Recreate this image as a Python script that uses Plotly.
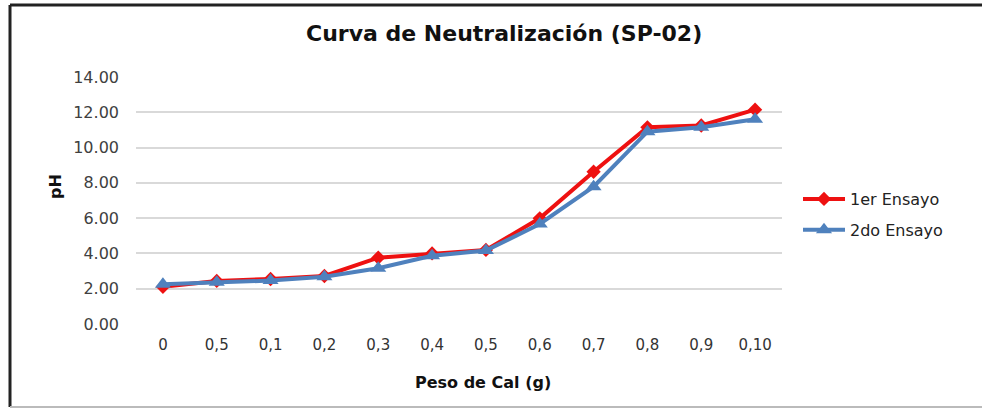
import plotly.graph_objects as go

# Peso de cal añadido (etiquetas del eje) y pH medido en cada ensayo
peso_labels = ["0", "0,5", "0,1", "0,2", "0,3", "0,4", "0,5", "0,6", "0,7", "0,8", "0,9", "0,10"]
ph_ensayo1 = [2.11, 2.44, 2.55, 2.72, 3.76, 4.00, 4.20, 5.99, 8.63, 11.15, 11.25, 12.15]
ph_ensayo2 = [2.25, 2.36, 2.46, 2.68, 3.16, 3.87, 4.16, 5.67, 7.78, 10.90, 11.15, 11.60]
y_ticks = [0, 2, 4, 6, 8, 10, 12, 14]

W, H = 982, 409
L, R, T, B = 136, 782, 77, 324  # plot area in pixels

x_idx = list(range(len(peso_labels)))

fig = go.Figure()
fig.add_trace(go.Scatter(
    x=x_idx, y=ph_ensayo1, name="1er Ensayo", mode="lines+markers", legendgroup="e1",
    line=dict(color="#ee1111", width=4),
    marker=dict(symbol="diamond", size=11, color="#ee1111"),
))
fig.add_trace(go.Scatter(
    x=x_idx, y=ph_ensayo2, name="2do Ensayo", mode="lines+markers", legendgroup="e2",
    line=dict(color="#4f81bd", width=4),
    marker=dict(symbol="triangle-up", size=14, color="#4f81bd"),
))

font = "DejaVu Sans, Verdana, sans-serif"


def px_x(px):
    return (px - L) / (R - L)


def px_y(py):
    return (B - py) / (B - T)


fig.update_layout(
    width=W, height=H,
    margin=dict(l=L, r=W - R, t=T, b=H - B, autoexpand=False),
    paper_bgcolor="white", plot_bgcolor="white",
    font=dict(family=font, color="#404040", size=14),
    showlegend=True,
    legend=dict(
        x=px_x(798), y=px_y(182), xanchor="left", yanchor="top",
        font=dict(size=16, color="#222222"), tracegroupgap=7, itemwidth=42,
        bgcolor="rgba(0,0,0,0)",
    ),
    xaxis=dict(
        range=[-0.5, len(peso_labels) - 0.5],
        tickmode="array", tickvals=x_idx, ticktext=peso_labels,
        showgrid=False, zeroline=False, showline=False,
        ticks="", ticklabelstandoff=10,
        tickfont=dict(size=15, color="#333333"), fixedrange=True,
    ),
    yaxis=dict(
        range=[0, 14], tickmode="array", tickvals=y_ticks,
        ticktext=[f"{v:.2f}" for v in y_ticks],
        showgrid=True, gridcolor="#d9d9d9", gridwidth=1.5,
        zeroline=False, showline=False, ticks="", ticklabelstandoff=16,
        tickfont=dict(size=16, color="#404040"), fixedrange=True,
    ),
    annotations=[
        dict(text="<b>Curva de Neutralización (SP-02)</b>", xref="paper", yref="paper",
             x=px_x(504), y=px_y(33), xanchor="center", yanchor="middle",
             showarrow=False, font=dict(size=22, color="#111111")),
        dict(text="<b>pH</b>", xref="paper", yref="paper",
             x=px_x(55), y=px_y(187), xanchor="center", yanchor="middle",
             textangle=-90, showarrow=False, font=dict(size=16, color="#111111")),
        dict(text="<b>Peso de Cal (g)</b>", xref="paper", yref="paper",
             x=px_x(483), y=px_y(382), xanchor="center", yanchor="middle",
             showarrow=False, font=dict(size=16, color="#111111")),
    ],
    shapes=[
        dict(type="line", xref="paper", yref="paper", x0=px_x(10), x1=px_x(982),
             y0=px_y(5), y1=px_y(5), line=dict(color="#222222", width=3)),
        dict(type="line", xref="paper", yref="paper", x0=px_x(10), x1=px_x(10),
             y0=px_y(5), y1=px_y(407), line=dict(color="#222222", width=3)),
        dict(type="line", xref="paper", yref="paper", x0=px_x(10), x1=px_x(982),
             y0=px_y(407), y1=px_y(407), line=dict(color="#bbbbbb", width=2)),
    ],
)

fig.write_html("out.html")
